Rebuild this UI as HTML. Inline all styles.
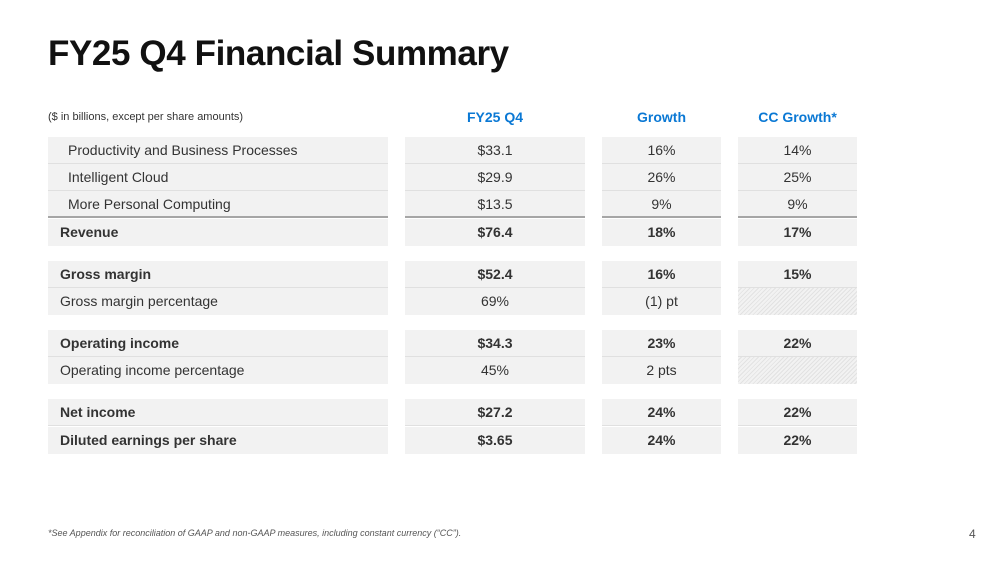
<!DOCTYPE html><html><head><style>
body{margin:0;width:1000px;height:563px;background:#fff;font-family:"Liberation Sans",sans-serif;position:relative;overflow:hidden;color:#333}
.t{position:absolute;left:48px;top:34px;font-size:35px;font-weight:bold;color:#111;letter-spacing:-0.4px}
.s{position:absolute;left:48px;top:111px;font-size:11px;color:#333}
.h{position:absolute;top:109px;font-size:14px;font-weight:bold;color:#0a78d4;text-align:center}
.c{position:absolute;background:#f2f2f2;font-size:14px;line-height:27px;height:27px;box-sizing:border-box;border-bottom:1px solid #e0e0e0;white-space:nowrap}
.n{text-align:center}
.b{font-weight:bold}
.hatch{background:repeating-linear-gradient(135deg,#f2f2f2 0 2px,#e2e2e2 2px 3px)}
.f{position:absolute;left:48px;top:528px;font-size:9px;font-style:italic;color:#555}
.p{position:absolute;left:969px;top:527px;font-size:12px;color:#555}
</style></head><body>
<div class="t">FY25 Q4 Financial Summary</div>
<div class="s">($ in billions, except per share amounts)</div>
<div class="h" style="left:405px;width:180px">FY25 Q4</div>
<div class="h" style="left:602px;width:119px">Growth</div>
<div class="h" style="left:738px;width:119px">CC Growth*</div>
<div id="rows"></div>
<script>
var rows=[
[137,"Productivity and Business Processes","$33.1","16%","14%",0,1],
[164,"Intelligent Cloud","$29.9","26%","25%",0,1],
[191,"More Personal Computing","$13.5","9%","9%",0,1,1],
[219,"Revenue","$76.4","18%","17%",1,0,0,1],
[261,"Gross margin","$52.4","16%","15%",1],
[288,"Gross margin percentage","69%","(1) pt",null,0,0,0,1],
[330,"Operating income","$34.3","23%","22%",1],
[357,"Operating income percentage","45%","2 pts",null,0,0,0,1],
[399,"Net income","$27.2","24%","22%",1],
[427,"Diluted earnings per share","$3.65","24%","22%",1,0,0,1]];
var h="";
rows.forEach(function(r){
 var y=r[0],b=r[5]?" b":"",ind=r[6]?20:12;
 var bb=r[7]?"border-bottom:2px solid #a6a6a6;":(r[8]?"border-bottom:none;":"");
 h+='<div class="c'+b+'" style="left:48px;width:340px;top:'+y+'px;padding-left:'+ind+'px;'+bb+'">'+r[1]+'</div>';
 h+='<div class="c n'+b+'" style="left:405px;width:180px;top:'+y+'px;'+bb+'">'+r[2]+'</div>';
 h+='<div class="c n'+b+'" style="left:602px;width:119px;top:'+y+'px;'+bb+'">'+r[3]+'</div>';
 h+='<div class="c n'+b+(r[4]===null?' hatch':'')+'" style="left:738px;width:119px;top:'+y+'px;'+bb+'">'+(r[4]||'')+'</div>';
});
document.getElementById("rows").innerHTML=h;
</script>
<div class="f">*See Appendix for reconciliation of GAAP and non-GAAP measures, including constant currency (“CC”).</div>
<div class="p">4</div>
</body></html>
